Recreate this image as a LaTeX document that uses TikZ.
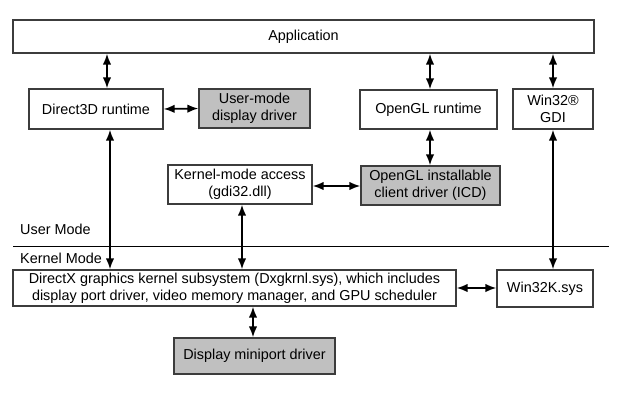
\documentclass[tikz,border=0pt]{standalone}
\usepackage{fontspec}
\setmainfont{Liberation Sans}
\usetikzlibrary{arrows.meta}
\definecolor{boxgray}{RGB}{192,192,192}
\definecolor{edge}{RGB}{60,60,60}
\tikzset{
  box/.style={draw=edge, line width=1.3pt, fill=white, inner sep=0pt, align=center,
    font=\fontsize{14.4}{17}\selectfont},
  gbox/.style={box, fill=boxgray},
  conn/.style={line width=1.8pt, {Latex[length=11pt,width=8.5pt]}-{Latex[length=11pt,width=8.5pt]}},
  lbl/.style={inner sep=0pt, anchor=west, font=\fontsize{14.4}{17}\selectfont}
}
\begin{document}
\begin{tikzpicture}[x=1pt,y=-1pt]
\useasboundingbox (0,0) rectangle (640,402);
\node[box, minimum width=581pt, minimum height=33pt] (app) at (303.5,36.5) {Application};
\node[box, minimum width=134pt, minimum height=40pt] (d3d) at (96,109) {Direct3D runtime};
\node[gbox, minimum width=111pt, minimum height=39pt] (umd) at (254.5,108.5) {User-mode\\display driver};
\node[box, minimum width=137pt, minimum height=39pt] (oglrt) at (428.5,109.5) {OpenGL runtime};
\node[box, minimum width=80pt, minimum height=40pt] (gdi) at (553,109) {Win32®\\GDI};
\node[box, minimum width=144pt, minimum height=39pt] (kma) at (240,184.5) {Kernel-mode access\\(gdi32.dll)};
\node[gbox, minimum width=139pt, minimum height=39pt] (icd) at (430.5,185.5) {OpenGL installable\\client driver (ICD)};
\node[box, minimum width=443pt, minimum height=36pt] (dx) at (234.5,288) {DirectX graphics kernel subsystem (Dxgkrnl.sys), which includes\\display port driver, video memory manager, and GPU scheduler};
\node[box, minimum width=96pt, minimum height=37pt] (w32k) at (545,288.5) {Win32K.sys};
\node[gbox, minimum width=161pt, minimum height=36pt] (mini) at (254.5,356) {Display miniport driver};
\coordinate (ml) at (13,246);
\coordinate (mr) at (609,246);
\draw[line width=1pt] (ml) -- (mr);
\node[lbl] (um) at (20,229) {User Mode};
\node[lbl] (km) at (20,258) {Kernel Mode};
% connectors
\draw[conn] (app.south -| 107,0) -- (d3d.north -| 107,0);
\draw[conn] (app.south -| 430,0) -- (oglrt.north -| 430,0);
\draw[conn] (app.south -| 553,0) -- (gdi.north -| 553,0);
\draw[conn] (d3d.east) -- (umd.west);
\draw[conn] (d3d.south -| 110,0) -- (dx.north -| 110,0);
\draw[conn] (oglrt.south -| 430,0) -- (icd.north -| 430,0);
\draw[conn] (kma.east |- 0,186) -- (icd.west |- 0,186);
\draw[conn] (kma.south -| 242,0) -- (dx.north -| 242,0);
\draw[conn] (gdi.south -| 553,0) -- (w32k.north -| 553,0);
\draw[conn] (dx.east) -- (w32k.west |- dx.east);
\draw[conn] (dx.south -| 253,0) -- (mini.north -| 253,0);
\end{tikzpicture}
\end{document}
